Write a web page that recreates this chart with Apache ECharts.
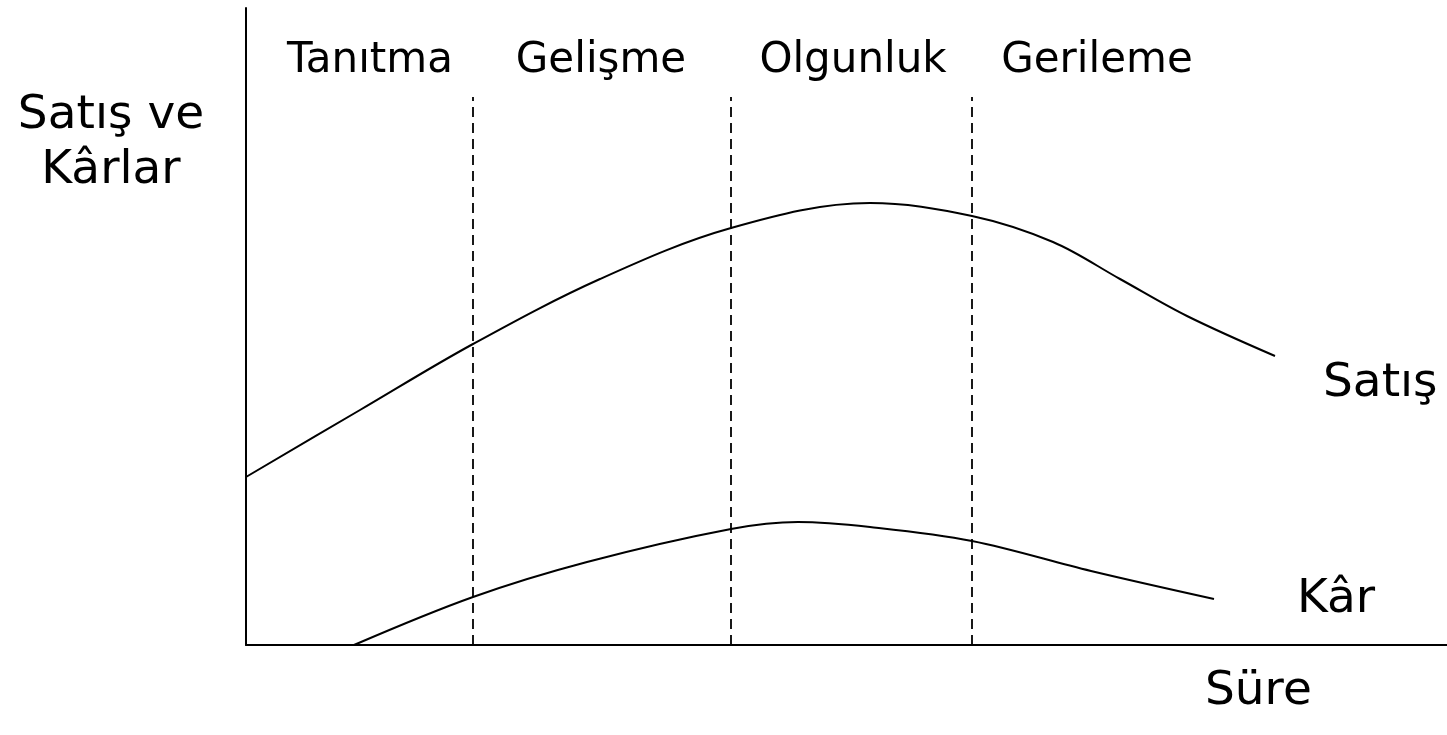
<!DOCTYPE html>
<html>
<head>
<meta charset="utf-8">
<title>Ürün Yaşam Eğrisi</title>
<script src="https://cdn.jsdelivr.net/npm/echarts@6/dist/echarts.min.js"></script>
<style>
  html, body { margin: 0; padding: 0; background: #fff; }
  #chart { width: 1447px; height: 735px; }
</style>
</head>
<body>
<div id="chart"></div>
<script>
  // süre (x) ve değer (y) çiftleri, göz kararı okundu
  var satisData = [
    [0, 16.8], [11.4, 23.5], [22.7, 30.1], [35.4, 36.6], [48.5, 41.7],
    [62.4, 44.2], [72.6, 42.9], [80.7, 40.3], [87.4, 36.6], [94.1, 32.9], [102.9, 28.9]
  ];
  var karData = [
    [10.8, 0], [22.7, 4.8], [34.1, 8.3], [48.5, 11.6], [55.2, 12.3],
    [62.4, 11.8], [72.6, 10.4], [84.5, 7.4], [96.8, 4.6]
  ];
  // evre sınırları (kesikli çizgiler)
  var phaseBounds = [22.7, 48.5, 72.6];
  var phaseTop = 54.8;
  var phaseNames = ['Tanıtma', 'Gelişme', 'Olgunluk', 'Gerileme'];

  var font = '"DejaVu Sans", Verdana, sans-serif';

  var chart = echarts.init(document.getElementById('chart'));

  var boundLines = phaseBounds.map(function (x) {
    return [{ coord: [x, 0] }, { coord: [x, phaseTop] }];
  });

  var phaseX = [370, 601, 853, 1097];
  var graphics = phaseNames.map(function (name, i) {
    return {
      type: 'text', x: phaseX[i], y: 61,
      style: { text: name, font: '42px ' + font, fill: '#000', textAlign: 'center', textVerticalAlign: 'middle' }
    };
  });
  graphics.push(
    { type: 'text', x: 111, y: 143, style: { text: 'Satış ve\nKârlar', font: '47px ' + font, lineHeight: 55, fill: '#000', textAlign: 'center', textVerticalAlign: 'middle' } },
    { type: 'text', x: 1323, y: 384, style: { text: 'Satış', font: '47px ' + font, fill: '#000', textVerticalAlign: 'middle' } },
    { type: 'text', x: 1297, y: 600, style: { text: 'Kâr', font: '47px ' + font, fill: '#000', textVerticalAlign: 'middle' } },
    { type: 'text', x: 1205, y: 692, style: { text: 'Süre', font: '47px ' + font, fill: '#000', textVerticalAlign: 'middle' } }
  );

  chart.setOption({
    animation: false,
    grid: { left: 246, right: 0, top: 8, bottom: 90 },
    xAxis: {
      type: 'value', min: 0, max: 120.1,
      axisLine: { show: true, lineStyle: { color: '#000', width: 2 } },
      axisTick: { show: false }, axisLabel: { show: false }, splitLine: { show: false }
    },
    yAxis: {
      type: 'value', min: 0, max: 63.7,
      axisLine: { show: true, lineStyle: { color: '#000', width: 2 } },
      axisTick: { show: false }, axisLabel: { show: false }, splitLine: { show: false }
    },
    series: [
      {
        name: 'Satış', type: 'line', data: satisData, smooth: 0.35, symbol: 'none',
        lineStyle: { color: '#000', width: 2 },
        markLine: {
          silent: true, symbol: 'none', label: { show: false },
          lineStyle: { color: '#000', width: 1.8, type: [10, 6], opacity: 1 },
          data: boundLines
        }
      },
      {
        name: 'Kâr', type: 'line', data: karData, smooth: 0.35, symbol: 'none',
        lineStyle: { color: '#000', width: 2 }
      }
    ],
    graphic: graphics
  });
</script>
</body>
</html>
